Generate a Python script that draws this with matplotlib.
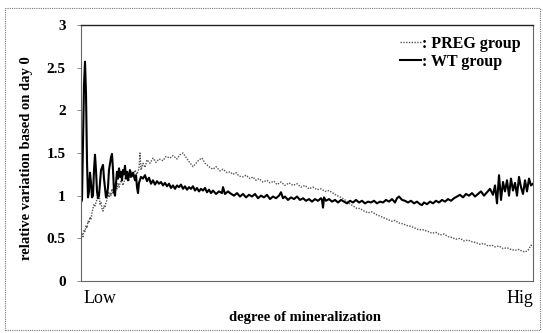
import matplotlib
matplotlib.use("Agg")
import matplotlib.pyplot as plt
from matplotlib.patches import Rectangle
from matplotlib.lines import Line2D

# ---- data: (position along mineralization axis 0=Low .. 452=High, relative variation) ----
wt_points = [
    (0, 0.92), (1, 0.95), (2, 1.6), (3, 2.3), (4, 2.57), (5, 2.2), (6, 1.4), (7, 0.98), (8, 1.05),
    (9, 1.27), (10, 1.15), (11, 0.98), (12, 1.0), (13, 1.3), (14, 1.48), (15, 1.3), (16, 1.05),
    (17, 0.97), (18, 1.0), (19, 1.15), (20, 1.3), (22, 1.36), (23, 1.2), (25, 0.98), (26, 1.0),
    (27, 1.1), (28, 1.3), (30, 1.45), (31, 1.49), (32, 1.3), (33, 1.05), (34, 1.0), (35, 1.15),
    (36, 1.28), (37, 1.2), (38, 1.32), (39, 1.22), (40, 1.28), (41, 1.18), (42, 1.3), (43, 1.25),
    (44, 1.35), (45, 1.2), (46, 1.28), (47, 1.18), (48, 1.25), (49, 1.3), (50, 1.22), (52, 1.27),
    (54, 1.18), (55, 1.24), (56, 1.1), (57, 1.03), (58, 1.15), (60, 1.22), (62, 1.2), (64, 1.24),
    (66, 1.17), (68, 1.21), (70, 1.14), (72, 1.18), (74, 1.13), (76, 1.17), (78, 1.14), (80, 1.16),
    (82, 1.12), (84, 1.15), (86, 1.11), (88, 1.14), (90, 1.09), (92, 1.12), (94, 1.08), (96, 1.12),
    (98, 1.1), (100, 1.13), (102, 1.08), (104, 1.11), (106, 1.07), (108, 1.1), (110, 1.08),
    (112, 1.11), (114, 1.06), (116, 1.09), (118, 1.05), (120, 1.08), (122, 1.06), (124, 1.09),
    (126, 1.04), (128, 1.07), (130, 1.03), (132, 1.06), (135, 1.02), (138, 1.05), (141, 1.03),
    (142, 1.1), (144, 1.02), (147, 1.05), (149, 1.03), (153, 1.0), (156, 1.03), (159, 0.99),
    (162, 1.02), (165, 0.98), (168, 1.01), (171, 0.99), (174, 1.02), (177, 0.97), (180, 1.0),
    (183, 0.98), (186, 1.01), (189, 0.96), (192, 0.99), (195, 0.97), (198, 1.0), (200, 1.04),
    (202, 0.97), (204, 0.99), (207, 0.95), (210, 0.98), (213, 0.96), (216, 0.99), (219, 0.95),
    (222, 0.97), (225, 0.94), (228, 0.96), (231, 0.93), (234, 0.96), (237, 0.94), (240, 0.97),
    (241, 0.95), (242, 0.86), (243, 0.98), (245, 0.94), (248, 0.96), (251, 0.93), (254, 0.95),
    (257, 0.92), (260, 0.95), (263, 0.93), (266, 0.91), (269, 0.94), (272, 0.92), (275, 0.95),
    (278, 0.92), (281, 0.94), (284, 0.91), (287, 0.93), (290, 0.92), (293, 0.94), (296, 0.91),
    (299, 0.93), (302, 0.92), (305, 0.95), (308, 0.93), (311, 0.96), (314, 0.92), (316, 0.97),
    (318, 0.99), (321, 0.95), (324, 0.94), (327, 0.92), (330, 0.94), (333, 0.91), (336, 0.93),
    (339, 0.9), (341, 0.89), (343, 0.92), (346, 0.9), (349, 0.93), (352, 0.91), (355, 0.94),
    (358, 0.92), (361, 0.95), (364, 0.93), (367, 0.96), (370, 0.94), (373, 0.97), (376, 0.99),
    (379, 1.01), (382, 0.98), (385, 1.02), (388, 1.0), (391, 1.03), (394, 0.99), (397, 1.02),
    (400, 1.05), (403, 1.0), (406, 1.04), (409, 1.08), (412, 1.01), (414, 1.12), (416, 0.91),
    (418, 1.24), (420, 0.95), (422, 1.16), (424, 1.05), (426, 1.18), (428, 1.0), (430, 1.2),
    (432, 1.06), (434, 1.15), (436, 1.0), (438, 1.22), (440, 1.1), (442, 1.02), (444, 1.18),
    (446, 1.05), (448, 1.2), (450, 1.12), (452, 1.14),
]

preg_points = [
    (0, 0.48), (1, 0.55), (2, 0.52), (3, 0.6), (4, 0.58), (5, 0.65), (6, 0.62), (7, 0.7), (8, 0.68),
    (9, 0.75), (10, 0.72), (11, 0.8), (12, 0.85), (13, 0.9), (14, 0.88), (15, 0.92), (16, 0.96),
    (17, 1.0), (18, 1.05), (19, 0.9), (20, 0.92), (21, 0.85), (22, 0.82), (23, 0.88), (24, 0.86),
    (25, 0.92), (26, 0.95), (27, 1.05), (28, 0.98), (29, 1.03), (30, 1.0), (31, 1.08), (32, 1.02),
    (33, 1.1), (34, 1.05), (35, 1.12), (36, 1.08), (37, 1.15), (38, 1.1), (40, 1.18), (42, 1.12),
    (44, 1.2), (46, 1.25), (48, 1.18), (50, 1.28), (52, 1.22), (54, 1.3), (56, 1.25), (58, 1.32),
    (59, 1.5), (60, 1.3), (62, 1.38), (64, 1.33), (66, 1.42), (69, 1.38), (72, 1.44), (75, 1.39),
    (78, 1.43), (82, 1.41), (85, 1.46), (89, 1.44), (92, 1.47), (96, 1.43), (99, 1.48), (102, 1.5),
    (105, 1.45), (108, 1.4), (112, 1.34), (115, 1.38), (118, 1.42), (121, 1.44), (124, 1.38),
    (127, 1.35), (129, 1.33), (132, 1.31), (135, 1.34), (139, 1.29), (142, 1.31), (146, 1.27),
    (149, 1.28), (152, 1.25), (155, 1.27), (158, 1.23), (162, 1.22), (165, 1.24), (169, 1.2),
    (172, 1.22), (175, 1.18), (178, 1.2), (182, 1.16), (186, 1.18), (189, 1.15), (193, 1.17),
    (196, 1.13), (200, 1.16), (204, 1.12), (208, 1.15), (212, 1.12), (216, 1.14), (220, 1.1),
    (224, 1.12), (228, 1.08), (232, 1.1), (236, 1.07), (240, 1.08), (244, 1.05), (248, 1.06),
    (252, 1.03), (256, 1.0), (260, 0.98), (264, 0.95), (268, 0.91), (272, 0.88), (276, 0.85),
    (279, 0.85), (283, 0.82), (287, 0.8), (291, 0.81), (295, 0.78), (299, 0.76), (303, 0.74),
    (307, 0.72), (311, 0.7), (314, 0.71), (318, 0.68), (322, 0.67), (326, 0.65), (330, 0.64),
    (334, 0.62), (338, 0.6), (342, 0.6), (347, 0.58), (351, 0.56), (355, 0.57), (359, 0.54),
    (363, 0.55), (367, 0.52), (371, 0.51), (375, 0.49), (379, 0.5), (383, 0.47), (387, 0.48),
    (391, 0.46), (395, 0.45), (399, 0.43), (403, 0.44), (407, 0.41), (411, 0.42), (414, 0.4),
    (418, 0.41), (422, 0.38), (426, 0.39), (430, 0.37), (434, 0.36), (438, 0.37), (441, 0.35),
    (444, 0.34), (447, 0.36), (450, 0.42), (452, 0.4),
]

wt_x = [p[0] for p in wt_points]
wt_y = [p[1] for p in wt_points]
preg_x = [p[0] for p in preg_points]
preg_y = [p[1] for p in preg_points]

y_ticks = [0, 0.5, 1, 1.5, 2, 2.5, 3]
y_tick_labels = ["0", "0.5", "1", "1.5", "2", "2.5", "3"]
x_end_labels = ["Low", "Hig"]
series_labels = [": PREG group", ": WT group"]

serif = ["Liberation Serif", "DejaVu Serif"]

fig = plt.figure(figsize=(5.43, 3.33), dpi=100)
fig.patch.set_facecolor("white")

# outer dotted frame
fig.patches.append(Rectangle((5 / 543, 3 / 333), 535 / 543, 322 / 333, transform=fig.transFigure,
                             fill=False, edgecolor="#777777", linestyle=(0, (1, 1)), linewidth=0.8))

ax = fig.add_axes([81 / 543, 52 / 333, 452 / 543, 256 / 333])
ax.plot(preg_x, preg_y, color="#555555", linestyle=(0, (1, 1)), linewidth=1.0)
ax.plot(wt_x, wt_y, color="black", linestyle="-", linewidth=1.5)

ax.set_xlim(0, 452)
ax.set_ylim(0, 3)
ax.set_yticks(y_ticks)
ax.set_yticklabels(y_tick_labels, fontfamily=serif, fontweight="bold", fontsize=11)
ax.set_xticks([])
ax.tick_params(axis="y", length=3, width=0.6, color="#777777", pad=8)

for side in ["left", "bottom", "right"]:
    ax.spines[side].set_linestyle((0, (1, 1)))
    ax.spines[side].set_color("#666666")
    ax.spines[side].set_linewidth(0.8)
ax.spines["top"].set_color("#222222")
ax.spines["top"].set_linewidth(1.0)

ax.text(0.005, -0.035, x_end_labels[0], transform=ax.transAxes, ha="left", va="top",
        fontfamily=serif, fontsize=13)
ax.text(1.0, -0.035, x_end_labels[1], transform=ax.transAxes, ha="right", va="top",
        fontfamily=serif, fontsize=13)
fig.text(305 / 543, 1 - 318 / 333, "degree of mineralization", ha="center", va="center",
         fontfamily=serif, fontweight="bold", fontsize=10.5)
fig.text(27 / 543, 1 - 158 / 333, "relative variation based on day 0", ha="center", va="center",
         rotation=90, fontfamily=serif, fontweight="bold", fontsize=10.5)

handles = [Line2D([0], [0], color="#555555", linestyle=(0, (1, 1)), linewidth=1.0),
           Line2D([0], [0], color="black", linestyle="-", linewidth=1.5)]
leg = ax.legend(handles, series_labels, loc="upper right", bbox_to_anchor=(1.005, 1.015),
                frameon=False, handlelength=1.3, handletextpad=0.1, labelspacing=0.15,
                prop={"family": serif, "weight": "bold", "size": 11.5})

fig.savefig("out.png", dpi=100, facecolor="white")
